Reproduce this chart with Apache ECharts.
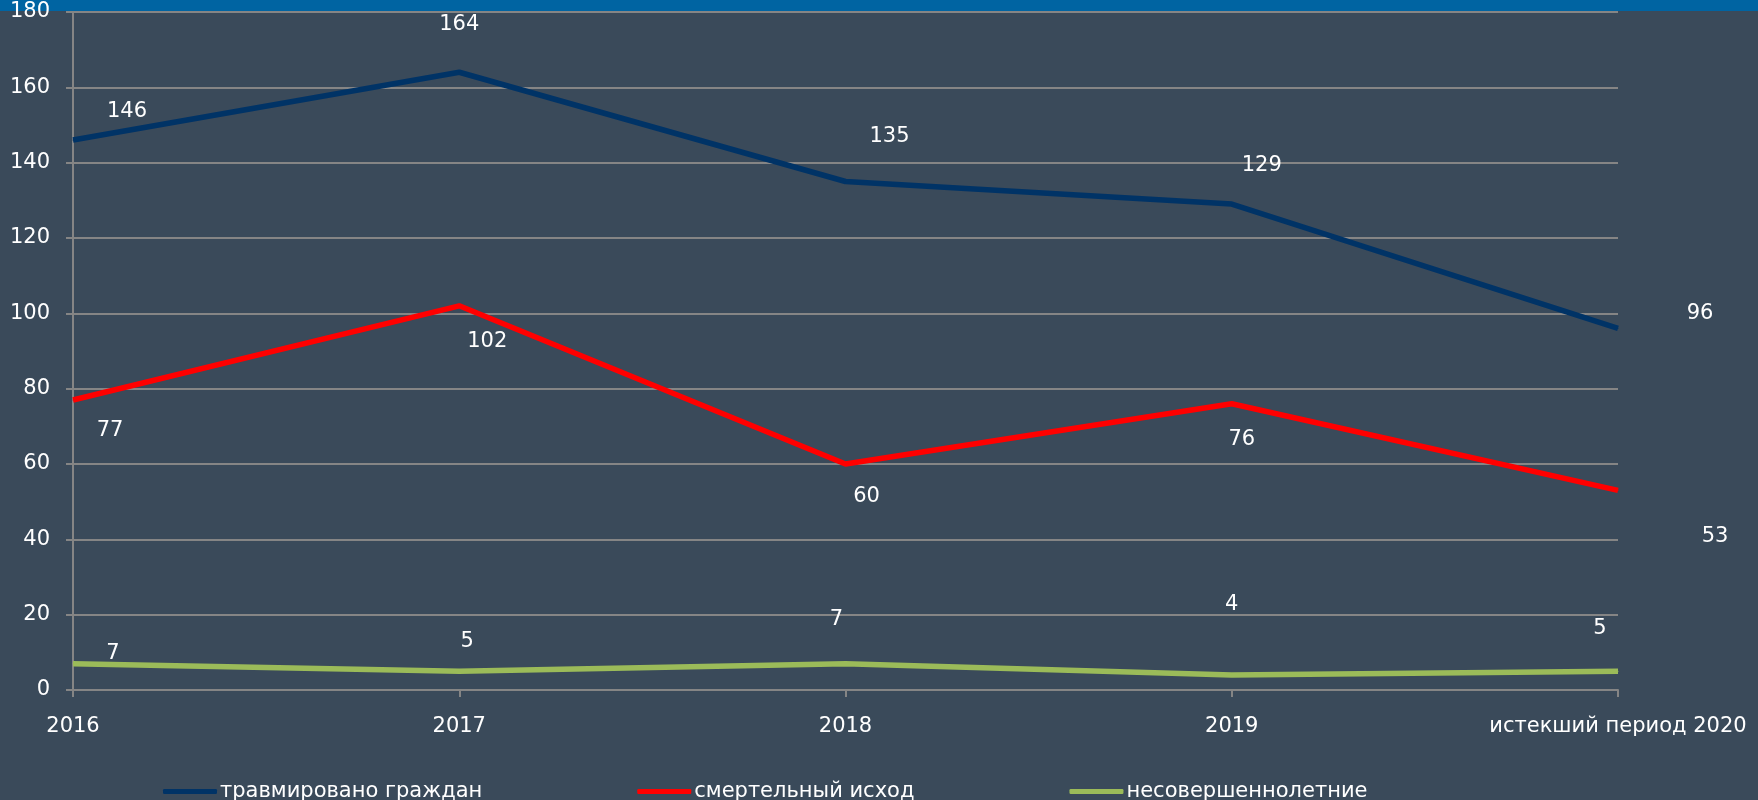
<!DOCTYPE html>
<html>
<head>
<meta charset="utf-8">
<script src="https://cdn.jsdelivr.net/npm/echarts@6/dist/echarts.min.js"></script>
<style>
  html, body { margin: 0; padding: 0; background: #3a4a5a; }
  #chart { width: 1758px; height: 800px; }
</style>
</head>
<body>
<div id="chart"></div>
<script>
const categories = ['2016', '2017', '2018', '2019', 'истекший период 2020']
const injured = [146, 164, 135, 129, 96]
const deaths = [77, 102, 60, 76, 53]
const minors = [7, 5, 7, 4, 5]

// label offsets from each point
const injuredLabelOffsets = [[54, -29], [0, -48], [44, -45], [30, -39], [82, -15]]
const deathsLabelOffsets = [[37, 31], [28, 36], [21, 33], [10, 36], [97, 46]]
const minorsLabelOffsets = [[40, -10], [8, -30], [-9, -44], [0, -70], [-18, -43]]

const font = 'DejaVu Sans'
const fontSize = 21
const gridColor = '#858585'

function withOffsets(values, offsets) {
  return values.map((v, i) => ({ value: [i, v], label: { offset: offsets[i] } }))
}

function lineSeries(name, color, values, offsets) {
  return {
    name: name,
    type: 'line',
    symbol: 'circle',
    symbolSize: 1,
    data: withOffsets(values, offsets),
    lineStyle: { color: color, width: 5.5 },
    itemStyle: { color: color },
    label: {
      show: true,
      position: 'inside',
      color: '#ffffff',
      fontFamily: font,
      fontSize: fontSize,
      formatter: p => p.value[1]
    },
    animation: false
  }
}

const chart = echarts.init(document.getElementById('chart'))
chart.setOption({
  backgroundColor: '#3a4a5a',
  animation: false,
  graphic: [{
    type: 'rect',
    left: 0,
    top: 0,
    z: -1,
    shape: { width: 1758, height: 11 },
    style: { fill: '#0064a2' }
  }],
  grid: {
    left: 73,
    right: 140,
    top: 12,
    bottom: 110,
    containLabel: false
  },
  legend: {
    data: ['травмировано граждан', 'смертельный исход', 'несовершеннолетние'],
    left: 158,
    top: 776,
    itemWidth: 54,
    itemHeight: 5,
    itemGap: 155,
    icon: 'roundRect',
    textStyle: { color: '#ffffff', fontFamily: font, fontSize: fontSize, padding: [0, 0, 0, -2] }
  },
  xAxis: {
    type: 'value',
    min: 0,
    max: categories.length - 1,
    interval: 1,
    splitLine: { show: false },
    axisLine: { lineStyle: { color: gridColor, width: 2 } },
    axisTick: { show: true, length: 7, lineStyle: { color: gridColor, width: 2 } },
    axisLabel: {
      color: '#ffffff', fontFamily: font, fontSize: fontSize, margin: 26,
      formatter: v => categories[v]
    }
  },
  yAxis: {
    type: 'value',
    min: 0,
    max: 180,
    interval: 20,
    axisLine: { show: true, lineStyle: { color: gridColor, width: 2 } },
    axisTick: { show: true, length: 7, lineStyle: { color: gridColor, width: 2 } },
    splitLine: { lineStyle: { color: gridColor, width: 2 } },
    axisLabel: { color: '#ffffff', fontFamily: font, fontSize: fontSize, margin: 23 }
  },
  series: [
    lineSeries('травмировано граждан', '#003366', injured, injuredLabelOffsets),
    lineSeries('смертельный исход', '#ff0000', deaths, deathsLabelOffsets),
    lineSeries('несовершеннолетние', '#9bbb59', minors, minorsLabelOffsets)
  ]
})
</script>
</body>
</html>
